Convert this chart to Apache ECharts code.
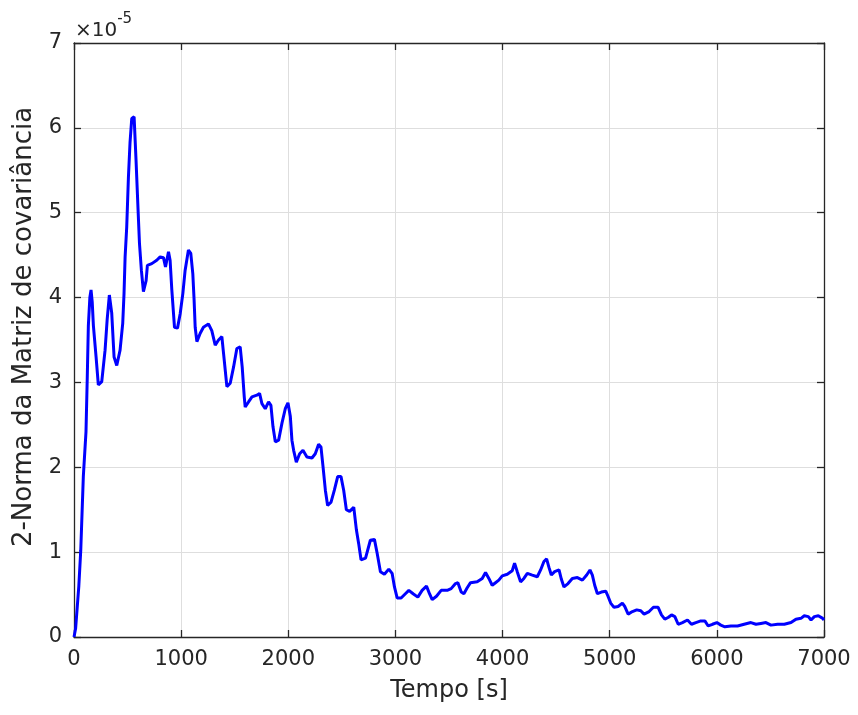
<!DOCTYPE html>
<html>
<head>
<meta charset="utf-8">
<script src="https://cdn.jsdelivr.net/npm/echarts@6/dist/echarts.min.js"></script>
<style>
html,body{margin:0;padding:0;background:#fff;}
#chart{width:858px;height:715px;}
</style>
</head>
<body>
<div id="chart"></div>
<script>
// Time [s]
var tempo = [0, 15, 30, 45, 63, 87, 112, 124, 134, 148, 159, 170, 181, 206, 227, 259, 290, 310, 330, 352, 374, 399, 430, 455, 467, 477, 492, 508, 523, 539, 561, 579, 598, 611, 629, 648, 673, 685, 726, 772, 804, 835, 854, 882, 897, 913, 938, 966, 991, 1016, 1037, 1068, 1090, 1109, 1121, 1131, 1147, 1178, 1208, 1255, 1286, 1318, 1349, 1380, 1396, 1427, 1458, 1489, 1520, 1551, 1570, 1589, 1598, 1629, 1661, 1707, 1732, 1754, 1785, 1816, 1838, 1857, 1879, 1910, 1941, 1972, 1997, 2019, 2034, 2050, 2075, 2106, 2137, 2174, 2221, 2252, 2283, 2305, 2324, 2346, 2367, 2399, 2430, 2461, 2492, 2517, 2542, 2573, 2611, 2636, 2657, 2679, 2721, 2766, 2804, 2829, 2860, 2897, 2938, 2969, 2991, 3016, 3053, 3093, 3125, 3165, 3209, 3249, 3290, 3318, 3343, 3383, 3427, 3483, 3520, 3561, 3583, 3614, 3639, 3670, 3701, 3763, 3810, 3841, 3872, 3903, 3934, 3965, 3997, 4044, 4090, 4112, 4137, 4168, 4199, 4231, 4277, 4324, 4355, 4386, 4411, 4433, 4455, 4486, 4527, 4549, 4573, 4611, 4651, 4698, 4745, 4785, 4816, 4838, 4860, 4885, 4922, 4963, 4984, 5009, 5040, 5078, 5118, 5140, 5172, 5212, 5252, 5290, 5321, 5368, 5408, 5452, 5483, 5514, 5545, 5577, 5608, 5639, 5679, 5726, 5763, 5804, 5850, 5888, 5919, 5959, 6000, 6037, 6075, 6131, 6193, 6255, 6318, 6365, 6411, 6458, 6505, 6567, 6630, 6692, 6738, 6785, 6816, 6854, 6879, 6910, 6947, 6988, 7000];
// 2-norm of covariance matrix, in units of 1e-5
var norma = [0, 0.1, 0.35, 0.6, 1.02, 1.89, 2.42, 3.07, 3.67, 4.0, 4.09, 3.95, 3.67, 3.30, 2.97, 3.01, 3.38, 3.75, 4.03, 3.82, 3.30, 3.20, 3.38, 3.70, 4.05, 4.48, 4.83, 5.42, 5.83, 6.11, 6.13, 5.62, 5.03, 4.64, 4.32, 4.07, 4.20, 4.38, 4.40, 4.44, 4.48, 4.47, 4.36, 4.54, 4.44, 4.09, 3.65, 3.64, 3.81, 4.05, 4.32, 4.56, 4.52, 4.28, 3.97, 3.65, 3.48, 3.58, 3.65, 3.69, 3.61, 3.44, 3.50, 3.54, 3.34, 2.95, 2.99, 3.18, 3.40, 3.42, 3.18, 2.83, 2.71, 2.77, 2.83, 2.85, 2.87, 2.75, 2.69, 2.77, 2.73, 2.48, 2.30, 2.32, 2.52, 2.69, 2.76, 2.60, 2.32, 2.20, 2.06, 2.16, 2.20, 2.12, 2.11, 2.16, 2.27, 2.24, 2.01, 1.73, 1.55, 1.59, 1.73, 1.89, 1.89, 1.73, 1.50, 1.48, 1.53, 1.26, 1.10, 0.91, 0.93, 1.14, 1.15, 0.99, 0.77, 0.74, 0.80, 0.75, 0.59, 0.46, 0.46, 0.51, 0.55, 0.51, 0.47, 0.55, 0.60, 0.51, 0.44, 0.48, 0.55, 0.55, 0.57, 0.63, 0.64, 0.53, 0.51, 0.58, 0.64, 0.65, 0.69, 0.76, 0.69, 0.61, 0.64, 0.67, 0.72, 0.74, 0.78, 0.87, 0.77, 0.65, 0.69, 0.75, 0.73, 0.71, 0.79, 0.89, 0.92, 0.82, 0.73, 0.77, 0.79, 0.68, 0.59, 0.63, 0.69, 0.70, 0.67, 0.73, 0.79, 0.73, 0.61, 0.51, 0.53, 0.54, 0.48, 0.40, 0.35, 0.36, 0.40, 0.36, 0.27, 0.30, 0.32, 0.31, 0.27, 0.30, 0.35, 0.35, 0.26, 0.21, 0.23, 0.26, 0.24, 0.15, 0.17, 0.20, 0.15, 0.17, 0.19, 0.19, 0.13, 0.15, 0.17, 0.14, 0.12, 0.13, 0.13, 0.15, 0.17, 0.15, 0.16, 0.17, 0.14, 0.15, 0.15, 0.17, 0.21, 0.22, 0.25, 0.24, 0.20, 0.24, 0.25, 0.22, 0.20];
var xTicks = [0, 1000, 2000, 3000, 4000, 5000, 6000, 7000];
var yTicks = [0, 1, 2, 3, 4, 5, 6, 7];
var xLabel = 'Tempo [s]';
var yLabel = '2-Norma da Matriz de covariância';

var data = tempo.map(function (t, i) { return [t, norma[i]]; });
var axisColor = '#262626';
var font = 'DejaVu Sans';
var chart = echarts.init(document.getElementById('chart'), null, {renderer: 'canvas'});
chart.setOption({
  animation: false,
  backgroundColor: '#ffffff',
  grid: {left: 74, right: 34, top: 43, bottom: 78, show: false},
  xAxis: [{
    type: 'value', min: xTicks[0], max: xTicks[xTicks.length - 1], interval: 1000,
    name: xLabel, nameLocation: 'middle', nameGap: 42,
    nameTextStyle: {fontFamily: font, fontSize: 24, color: axisColor},
    axisLine: {show: true, onZero: false, lineStyle: {color: axisColor, width: 1.3}},
    axisTick: {show: true, inside: true, length: 7, lineStyle: {color: axisColor, width: 1.3}},
    axisLabel: {fontFamily: font, fontSize: 21, color: axisColor, margin: 12,
      formatter: function (v) { return String(v); }},
    splitLine: {show: true, lineStyle: {color: '#dedede', width: 1}}
  }, {
    type: 'value', position: 'top', min: xTicks[0], max: xTicks[xTicks.length - 1], interval: 1000,
    axisLine: {show: true, onZero: false, lineStyle: {color: axisColor, width: 1.3}},
    axisTick: {show: true, inside: true, length: 7, lineStyle: {color: axisColor, width: 1.3}},
    axisLabel: {show: false}, splitLine: {show: false}
  }],
  yAxis: [{
    type: 'value', min: yTicks[0], max: yTicks[yTicks.length - 1], interval: 1,
    name: yLabel, nameLocation: 'middle', nameGap: 35,
    nameTextStyle: {fontFamily: font, fontSize: 26, color: axisColor, padding: [0, 0, 0, 26]},
    axisLine: {show: true, onZero: false, lineStyle: {color: axisColor, width: 1.3}},
    axisTick: {show: true, inside: true, length: 7, lineStyle: {color: axisColor, width: 1.3}},
    axisLabel: {fontFamily: font, fontSize: 21, color: axisColor, margin: 12},
    splitLine: {show: true, lineStyle: {color: '#dedede', width: 1}}
  }, {
    type: 'value', position: 'right', min: yTicks[0], max: yTicks[yTicks.length - 1], interval: 1,
    axisLine: {show: true, onZero: false, lineStyle: {color: axisColor, width: 1.3}},
    axisTick: {show: true, inside: true, length: 7, lineStyle: {color: axisColor, width: 1.3}},
    axisLabel: {show: false}, splitLine: {show: false}
  }],
  graphic: [{
    type: 'text', left: 75, top: 12,
    style: {
      text: '{a|×10}{b|-5}',
      rich: {
        a: {fontFamily: font, fontSize: 20, fill: axisColor, verticalAlign: 'bottom', padding: [9, 0, 0, 0]},
        b: {fontFamily: font, fontSize: 15, fill: axisColor, verticalAlign: 'top'}
      }
    }
  }],
  series: [{
    type: 'line', data: data, xAxisIndex: 0, yAxisIndex: 0,
    showSymbol: false, symbol: 'none',
    lineStyle: {color: '#0000ff', width: 3},
    z: 5
  }]
});
</script>
</body>
</html>
